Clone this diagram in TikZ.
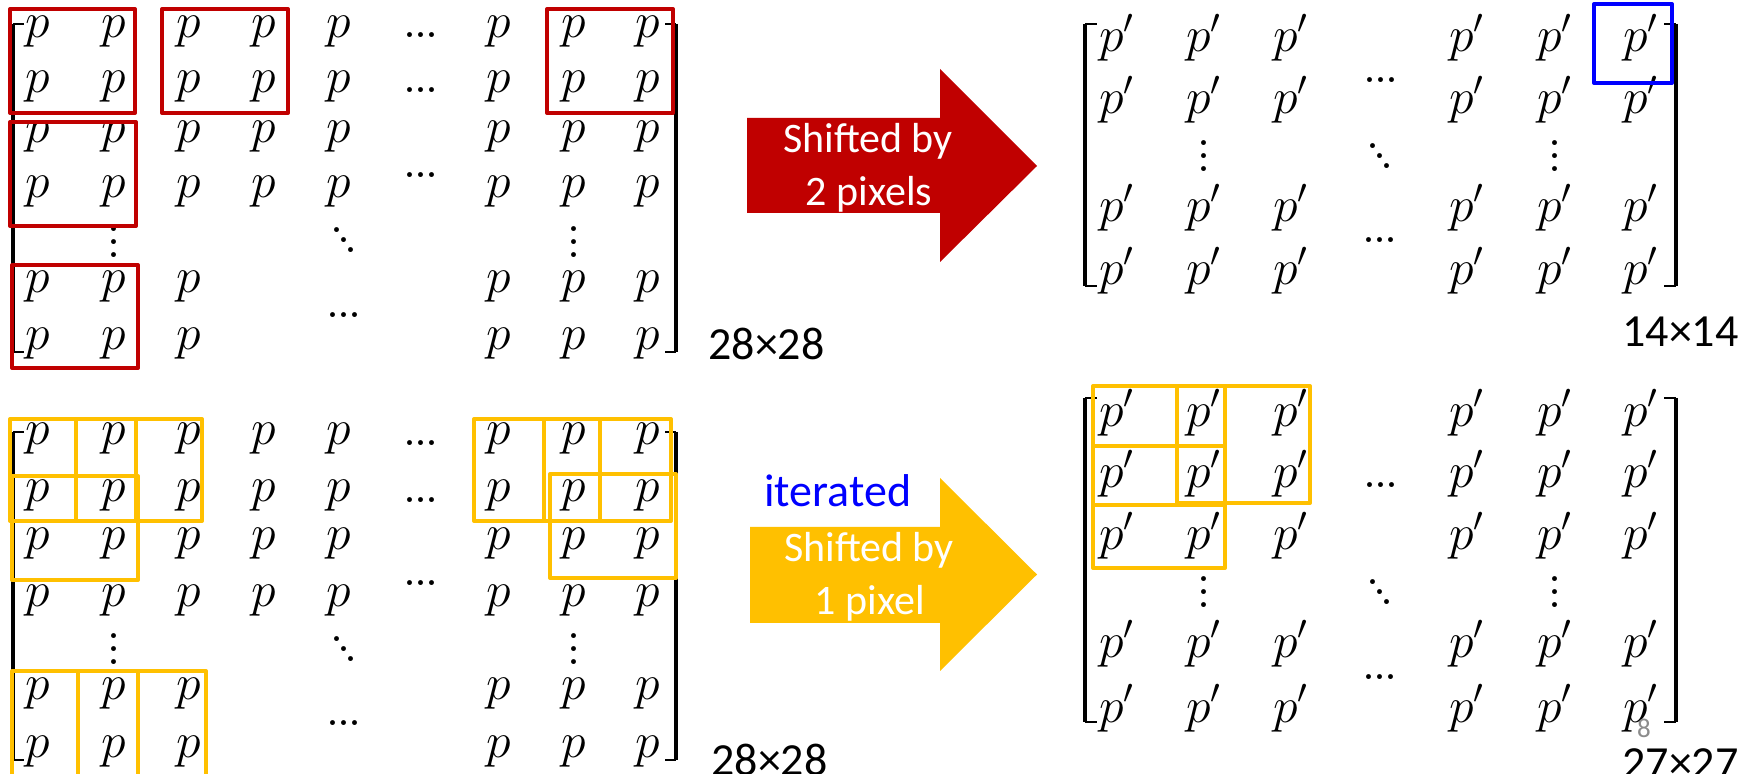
\documentclass[tikz,border=0pt]{standalone}
\usepackage{fontspec}
\newfontfamily\calibri{Carlito}
\definecolor{pptred}{HTML}{C00000}
\definecolor{pptyellow}{HTML}{FFC000}
\definecolor{pptblue}{HTML}{0000FF}
\definecolor{pptgray}{HTML}{8C8C8C}
\newcommand\hdts{.\kern-1.83pt.\kern-1.83pt.}
\newcommand\vdts{\vbox{\baselineskip=6.3pt\lineskiplimit=-20pt\hbox{.}\hbox{.}\hbox{.}}}
\newcommand\ddts{\hbox{\raisebox{10pt}{.}\kern-3.83pt\raisebox{5pt}{.}\kern-3.83pt.}}
\tikzset{
  pe/.style={anchor=base, inner sep=0pt, font=\fontsize{25}{25}\selectfont},
  dts/.style={anchor=center, inner sep=0pt, font=\fontsize{30}{30}\selectfont},
  redbox/.style={draw=pptred, line width=2pt, line join=round},
  ybox/.style={draw=pptyellow, line width=2pt, line join=round},
  bluebox/.style={draw=pptblue, line width=2pt, line join=round},
  brk/.style={line width=2pt},
  brtick/.style={line width=0.75pt},
  dimlbl/.style={anchor=base west, inner sep=0pt, font=\calibri\fontsize{23}{23}\selectfont},
  arrtxt/.style={anchor=base, inner sep=0pt, text=white, font=\calibri\fontsize{21}{21}\selectfont},
}
\begin{document}
\begin{tikzpicture}[x=0.5pt,y=-0.5pt]
\clip (0,0) rectangle (1746,774);
\fill[white] (0,0) rectangle (1746,774);

% ---------- top-left matrix ----------
\foreach \yy [count=\r] in {38,93,143,198}{
  \foreach \xx [count=\c] in {38,114,189,264,339,499,574,648}{
    \node[pe] (tl-\r-\c) at (\xx,\yy) {$p$};
  }
}
\foreach \yy [count=\r from 5] in {293,350}{
  \foreach \xx [count=\c] in {38,114,189,499,574,648}{
    \node[pe] (tl-\r-\c) at (\xx,\yy) {$p$};
  }
}
\node[dts] (tl-h1) at (421,35) {\hdts};
\node[dts] (tl-h2) at (421,90) {\hdts};
\node[dts] (tl-h3) at (421,175) {\hdts};
\node[dts] (tl-v1) at (114,242) {\vdts};
\node[dts] (tl-v2) at (574,242) {\vdts};
\node[dts] (tl-d) at (344,240) {\ddts};
\node[dts] (tl-h4) at (344,315) {\hdts};
\draw[brk] (13,24) -- (13,352);
\draw[brtick] (13,24) -- (24,24);
\draw[brtick] (13,352) -- (24,352);
\draw[brk] (676,24) -- (676,352);
\draw[brtick] (665,24) -- (676,24);
\draw[brtick] (665,352) -- (676,352);
\draw[redbox] (10,9) rectangle (135,113);
\draw[redbox] (162,9) rectangle (288,113);
\draw[redbox] (547,9) rectangle (673,113);
\draw[redbox] (10,122) rectangle (136,226);
\draw[redbox] (12,265) rectangle (138,368);

% ---------- bottom-left matrix ----------
\foreach \yy [count=\r] in {445,502,550,607}{
  \foreach \xx [count=\c] in {38,114,189,264,339,499,574,648}{
    \node[pe] (bl-\r-\c) at (\xx,\yy) {$p$};
  }
}
\foreach \yy [count=\r from 5] in {700,757}{
  \foreach \xx [count=\c] in {38,114,189,499,574,648}{
    \node[pe] (bl-\r-\c) at (\xx,\yy) {$p$};
  }
}
\node[dts] (bl-h1) at (421,443) {\hdts};
\node[dts] (bl-h2) at (421,500) {\hdts};
\node[dts] (bl-h3) at (421,583) {\hdts};
\node[dts] (bl-v1) at (114,649) {\vdts};
\node[dts] (bl-v2) at (574,649) {\vdts};
\node[dts] (bl-d) at (344,649) {\ddts};
\node[dts] (bl-h4) at (344,723) {\hdts};
\draw[brk] (13,432) -- (13,760);
\draw[brtick] (13,432) -- (24,432);
\draw[brtick] (13,760) -- (24,760);
\draw[brk] (676,432) -- (676,760);
\draw[brtick] (665,432) -- (676,432);
\draw[brtick] (665,760) -- (676,760);
\draw[ybox] (10,419) rectangle (136,521);
\draw[ybox] (76,419) rectangle (202,521);
\draw[ybox] (12,476) rectangle (138,580);
\draw[ybox] (474,419) rectangle (600,521);
\draw[ybox] (544,419) rectangle (671,521);
\draw[ybox] (550,474) rectangle (676,578);
\draw[ybox] (12,671) rectangle (138,776);
\draw[ybox] (78,671) rectangle (206,776);

% ---------- arrows ----------
\fill[pptred] (747,118) -- (940,118) -- (940,69) -- (1037,166) -- (940,262) -- (940,213) -- (747,213) -- cycle;
\node[arrtxt] (rt1) at (868,153) {Shifted by};
\node[arrtxt] (rt2) at (869,206) {2 pixels};
\fill[pptyellow] (750,527) -- (940,527) -- (940,478) -- (1037,574.5) -- (940,671) -- (940,623) -- (750,623) -- cycle;
\node[arrtxt] (yt1) at (869,562) {Shifted by};
\node[arrtxt] (yt2) at (870,615) {1 pixel};
\node[anchor=base west, inner sep=0pt, text=pptblue, font=\calibri\fontsize{23}{23}\selectfont] (iter) at (764,507) {iterated};

\node[dimlbl] (dim1) at (708,360) {28×28};
\node[dimlbl] (dim2) at (711,775) {28×28};

% ---------- top-right matrix ----------
\foreach \yy [count=\r] in {52,114,222,285}{
  \foreach \xx [count=\c] in {1117,1204,1291,1467,1555,1641}{
    \node[pe] (tr-\r-\c) at (\xx,\yy) {$p'$};
  }
}
\node[dts] (tr-h1) at (1381,80) {\hdts};
\node[dts] (tr-v1) at (1204,156) {\vdts};
\node[dts] (tr-v2) at (1555,156) {\vdts};
\node[dts] (tr-d) at (1380,156) {\ddts};
\node[dts] (tr-h2) at (1380,240) {\hdts};
\draw[brk] (1085,24) -- (1085,286);
\draw[brtick] (1085,24) -- (1097,24);
\draw[brtick] (1085,286) -- (1097,286);
\draw[brk] (1676,24) -- (1676,286);
\draw[brtick] (1664,24) -- (1676,24);
\draw[brtick] (1664,286) -- (1676,286);
\draw[bluebox] (1594,4) rectangle (1672,83);
\node[dimlbl] (dim3) at (1622,347) {14×14};

% ---------- bottom-right matrix ----------
\foreach \yy [count=\r] in {427,488,550,658,722}{
  \foreach \xx [count=\c] in {1117,1204,1291,1467,1555,1641}{
    \node[pe] (br-\r-\c) at (\xx,\yy) {$p'$};
  }
}
\node[dts] (br-h1) at (1381,485) {\hdts};
\node[dts] (br-v1) at (1204,592) {\vdts};
\node[dts] (br-v2) at (1555,592) {\vdts};
\node[dts] (br-d) at (1380,592) {\ddts};
\node[dts] (br-h2) at (1380,677) {\hdts};
\draw[brk] (1085,398) -- (1085,722);
\draw[brtick] (1085,398) -- (1097,398);
\draw[brtick] (1085,722) -- (1097,722);
\draw[brk] (1676,398) -- (1676,722);
\draw[brtick] (1664,398) -- (1676,398);
\draw[brtick] (1664,722) -- (1676,722);
\draw[ybox] (1093,386) rectangle (1225,505);
\draw[ybox] (1177,386) rectangle (1310,503);
\draw[ybox] (1093,446) rectangle (1225,568);
\node[anchor=base, inner sep=0pt, text=pptgray, font=\calibri\fontsize{13.5}{13.5}\selectfont] (pgno) at (1644,737) {8};
\node[dimlbl] (dim4) at (1622,778) {27×27};
\end{tikzpicture}
\end{document}
